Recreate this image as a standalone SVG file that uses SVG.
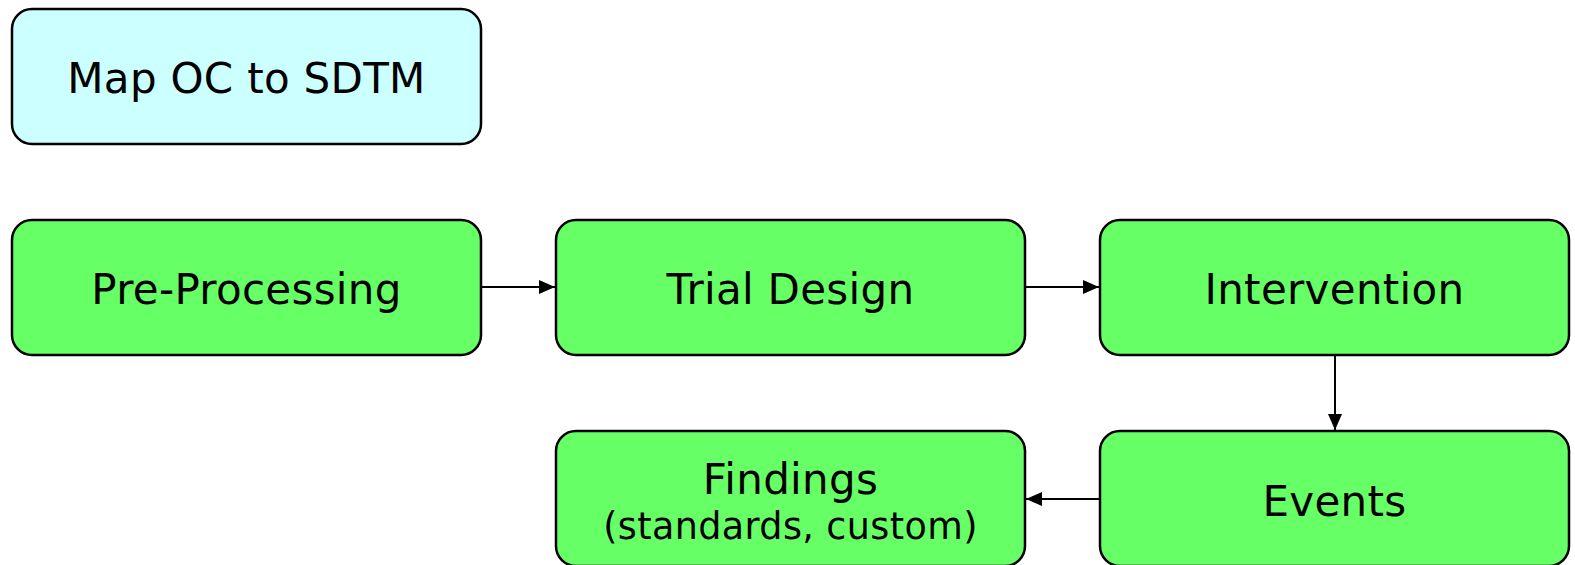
<svg xmlns="http://www.w3.org/2000/svg" width="1575" height="565" viewBox="0 0 1575 565">
<style>
.box{stroke:#000;stroke-width:2.5}
.cyan{fill:#CCFFFF}
.green{fill:#66FF66}
text{font-family:"DejaVu Sans",Verdana,sans-serif;fill:#000;text-anchor:middle}
.big{font-size:42px;letter-spacing:0.3px}
.small{font-size:36.5px;letter-spacing:0.4px}
.conn{stroke:#000;stroke-width:2;fill:none}
</style>
<defs>
<marker id="arr" viewBox="0 0 16 14" refX="16" refY="7" markerWidth="16" markerHeight="14" markerUnits="userSpaceOnUse" orient="auto">
<path d="M0,0 L16,7 L0,14 Z" fill="#000"/>
</marker>
</defs>
<rect width="1575" height="565" fill="#fff"/>
<g id="map">
<rect class="box cyan" x="12" y="9" width="469" height="135" rx="20"/>
<text class="big" x="246.5" y="93">Map OC to SDTM</text>
</g>
<g id="preprocessing">
<rect class="box green" x="12" y="220" width="469" height="135" rx="20"/>
<text class="big" x="246.5" y="304">Pre-Processing</text>
</g>
<g id="trialdesign">
<rect class="box green" x="556" y="220" width="469" height="135" rx="20"/>
<text class="big" x="790.5" y="304">Trial Design</text>
</g>
<g id="intervention">
<rect class="box green" x="1100" y="220" width="469" height="135" rx="20"/>
<text class="big" x="1334.5" y="304">Intervention</text>
</g>
<g id="events">
<rect class="box green" x="1100" y="431" width="469" height="135" rx="20"/>
<text class="big" x="1334.5" y="516">Events</text>
</g>
<g id="findings">
<rect class="box green" x="556" y="431" width="469" height="135" rx="20"/>
<text class="big" x="790.5" y="494">Findings</text>
<text class="small" x="790.5" y="539">(standards, custom)</text>
</g>
<g id="connectors">
<line class="conn" x1="481" y1="287" x2="555" y2="287" marker-end="url(#arr)"/>
<line class="conn" x1="1025" y1="287" x2="1099" y2="287" marker-end="url(#arr)"/>
<line class="conn" x1="1335" y1="355" x2="1335" y2="430" marker-end="url(#arr)"/>
<line class="conn" x1="1100" y1="499" x2="1026" y2="499" marker-end="url(#arr)"/>
</g>
</svg>
